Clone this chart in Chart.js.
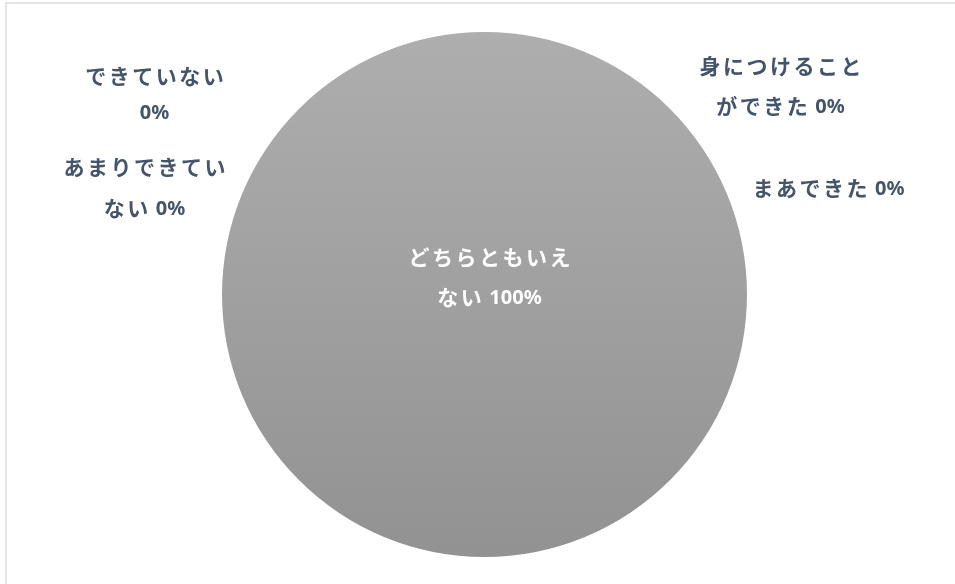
<!DOCTYPE html>
<html>
<head>
<meta charset="utf-8">
<script src="https://cdn.jsdelivr.net/npm/chart.js@4"></script>
<style>
  html, body { margin: 0; padding: 0; background: #fff; }
  #wrap { position: relative; width: 955px; height: 584px; }
</style>
</head>
<body>
<div id="wrap"><canvas id="c" width="955" height="584"></canvas></div>
<script>
// ---- data ----
const categories = ['身につけることができた', 'まあできた', 'どちらともいえない', 'あまりできていない', 'できていない'];
const values = [0, 0, 100, 0, 0];
const percentLabels = ['0%', '0%', '100%', '0%', '0%'];
// characters of the category that fit on the first label line (null = single line)
const firstLineChars = [7, null, 7, 7, 6];

// ---- label layout (offsets from pie centre) ----
const labelLayout = [
  { dx: 296, dy: -208, gap: 40, color: '#44546A' },
  { dx: 344, dy: -106, gap: 40, color: '#44546A' },
  { dx: 5,   dy: -17,  gap: 40, color: '#FFFFFF' },
  { dx: -340, dy: -107, gap: 41, color: '#44546A' },
  { dx: -330, dy: -200, gap: 36, color: '#44546A' }
];

const JP_FONT = 'bold 21px "Noto Sans CJK JP", sans-serif';
const NUM_FONT = 'bold 20px "Noto Sans", "Open Sans", sans-serif';

// each line is a list of runs [text, isNumber]
function labelLines(i) {
  const name = categories[i];
  const n = firstLineChars[i];
  const pct = percentLabels[i];
  if (n === null) return [[[name, false], [pct, true]]];
  const first = name.slice(0, n), rest = name.slice(n);
  if (rest.length === 0) return [[[first, false]], [[pct, true]]];
  return [[[first, false]], [[rest, false], [pct, true]]];
}

const frame = {
  id: 'frame',
  beforeDraw(chart) {
    const ctx = chart.ctx;
    ctx.save();
    ctx.fillStyle = '#fff';
    ctx.fillRect(0, 0, chart.width, chart.height);
    ctx.fillStyle = '#E3E6EE';
    ctx.fillRect(5, 2, chart.width - 5, 2);
    ctx.fillRect(5, 2, 2, chart.height - 2);
    ctx.restore();
  }
};

function setRunFont(ctx, isNum) {
  ctx.font = isNum ? NUM_FONT : JP_FONT;
  ctx.letterSpacing = isNum ? '0px' : '2.5px';
}

const pieLabels = {
  id: 'pieLabels',
  afterDatasetsDraw(chart) {
    const ctx = chart.ctx;
    const arc = chart.getDatasetMeta(0).data[0];
    const cx = arc.x, cy = arc.y;
    ctx.save();
    ctx.textAlign = 'left';
    ctx.textBaseline = 'middle';
    categories.forEach((c, i) => {
      const L = labelLayout[i];
      const lines = labelLines(i);
      ctx.fillStyle = L.color;
      const total = (lines.length - 1) * L.gap;
      lines.forEach((runs, k) => {
        const gapBetween = 5;
        let w = 0;
        runs.forEach((r, j) => {
          setRunFont(ctx, r[1]);
          w += ctx.measureText(r[0]).width;
          if (j > 0) w += gapBetween;
        });
        if (!runs[runs.length - 1][1]) w -= 2.5;
        let x = cx + L.dx - w / 2;
        const y = cy + L.dy - total / 2 + k * L.gap;
        runs.forEach((r, j) => {
          setRunFont(ctx, r[1]);
          if (j > 0) x += gapBetween;
          ctx.fillText(r[0], x, r[1] ? y + 1 : y);
          x += ctx.measureText(r[0]).width;
        });
      });
    });
    ctx.restore();
  }
};

new Chart(document.getElementById('c'), {
  type: 'pie',
  data: {
    labels: categories,
    datasets: [{
      data: values,
      borderWidth: 0,
      backgroundColor(context) {
        const chart = context.chart;
        const a = chart.chartArea;
        if (!a) return '#a0a0a0';
        const g = chart.ctx.createLinearGradient(0, a.top, 0, a.bottom);
        g.addColorStop(0, '#AEAEAE');
        g.addColorStop(1, '#929292');
        return g;
      }
    }]
  },
  options: {
    responsive: false,
    animation: false,
    layout: { padding: { left: 222, right: 208, top: 32, bottom: 27 } },
    plugins: { legend: { display: false }, tooltip: { enabled: false } }
  },
  plugins: [frame, pieLabels]
});
</script>
</body>
</html>
